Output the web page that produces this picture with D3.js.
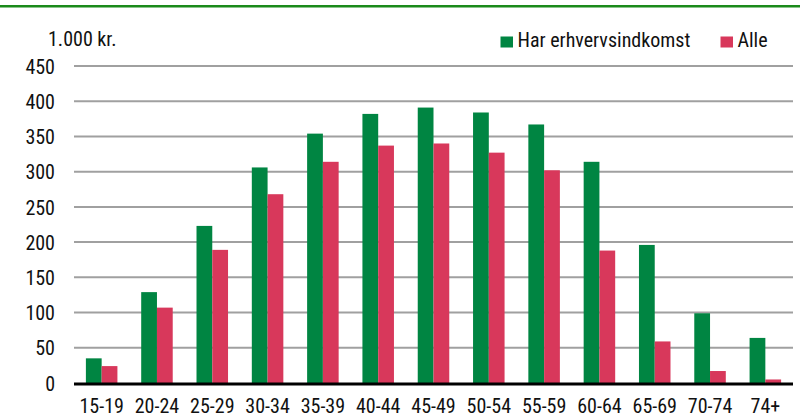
<!DOCTYPE html>
<html><head><meta charset="utf-8">
<script src="https://cdn.jsdelivr.net/npm/d3@7"></script>
<style>
body{margin:0;background:#fff;}
text{font-family:Roboto,sans-serif;font-stretch:condensed;fill:#111;}
</style></head>
<body><svg id="c" width="800" height="419"></svg>
<script>
const categories=["15-19","20-24","25-29","30-34","35-39","40-44","45-49","50-54","55-59","60-64","65-69","70-74","74+"];
const seriesNames=["Har erhvervsindkomst","Alle"];
const harErhverv=[35,129,223,306,354,382,391,384,367,314,196,99,64];
const alle=[24,107,189,268,314,337,340,327,302,188,59,17,5];
const yTicks=[0,50,100,150,200,250,300,350,400,450];
const colors=["#008542","#d8385b"];
const unitLabel="1.000 kr.";

(function(){
const svg=d3.select("#c");
const mL=74,mR=793,mT=66,mB=383;
const FS=20;
svg.append("rect").attr("x",0).attr("y",5).attr("width",800).attr("height",2.5).attr("fill","#1a8a1a");

const y=d3.scaleLinear().domain([0,450]).range([mB,mT]);
const x=d3.scaleBand().domain(categories).range([mL,mR]).paddingInner(0.43).paddingOuter(0.215);
const xs=d3.scaleBand().domain(seriesNames).range([0,x.bandwidth()]);

const grid=svg.append("g");
grid.selectAll("line").data(yTicks.filter(d=>d>0)).join("line")
 .attr("x1",mL).attr("x2",mR).attr("y1",d=>y(d)).attr("y2",d=>y(d))
 .attr("stroke","#a0a0a0").attr("stroke-width",2);

const yAxis=d3.axisLeft(y).tickValues(yTicks).tickSize(0).tickPadding(19);
const ga=svg.append("g").attr("transform",`translate(${mL},0)`).call(yAxis);
ga.select(".domain").remove();
ga.attr("font-family",null).attr("font-size",null);
ga.selectAll("text").attr("font-size",FS).attr("dy","0.36em").attr("fill","#111");

const data=[harErhverv,alle];
data.forEach((vals,si)=>{
 svg.append("g").selectAll("rect").data(vals).join("rect")
  .attr("x",(d,i)=>x(categories[i])+xs(seriesNames[si]))
  .attr("width",xs.bandwidth())
  .attr("y",d=>y(d)).attr("height",d=>mB-y(d))
  .attr("fill",colors[si]);
});

svg.append("line").attr("x1",mL).attr("x2",mR).attr("y1",mB+1).attr("y2",mB+1).attr("stroke","#000").attr("stroke-width",3);

const xAxis=d3.axisBottom(x).tickSize(0).tickPadding(0);
const gx=svg.append("g").attr("transform",`translate(0,${mB})`).call(xAxis);
gx.select(".domain").remove();
gx.attr("font-family",null).attr("font-size",null);
gx.selectAll("text").attr("font-size",FS).attr("y",29.5).attr("dy",0).attr("fill","#111");

svg.append("text").attr("x",48).attr("y",45.5).attr("font-size",FS).text(unitLabel);

const legX=[500.5,720.5];
seriesNames.forEach((n,i)=>{
 svg.append("rect").attr("x",legX[i]).attr("y",36.5).attr("width",12.5).attr("height",11).attr("fill",colors[i]);
 svg.append("text").attr("x",legX[i]+17).attr("y",46.5).attr("font-size",FS).text(n);
});
})();
</script></body></html>
